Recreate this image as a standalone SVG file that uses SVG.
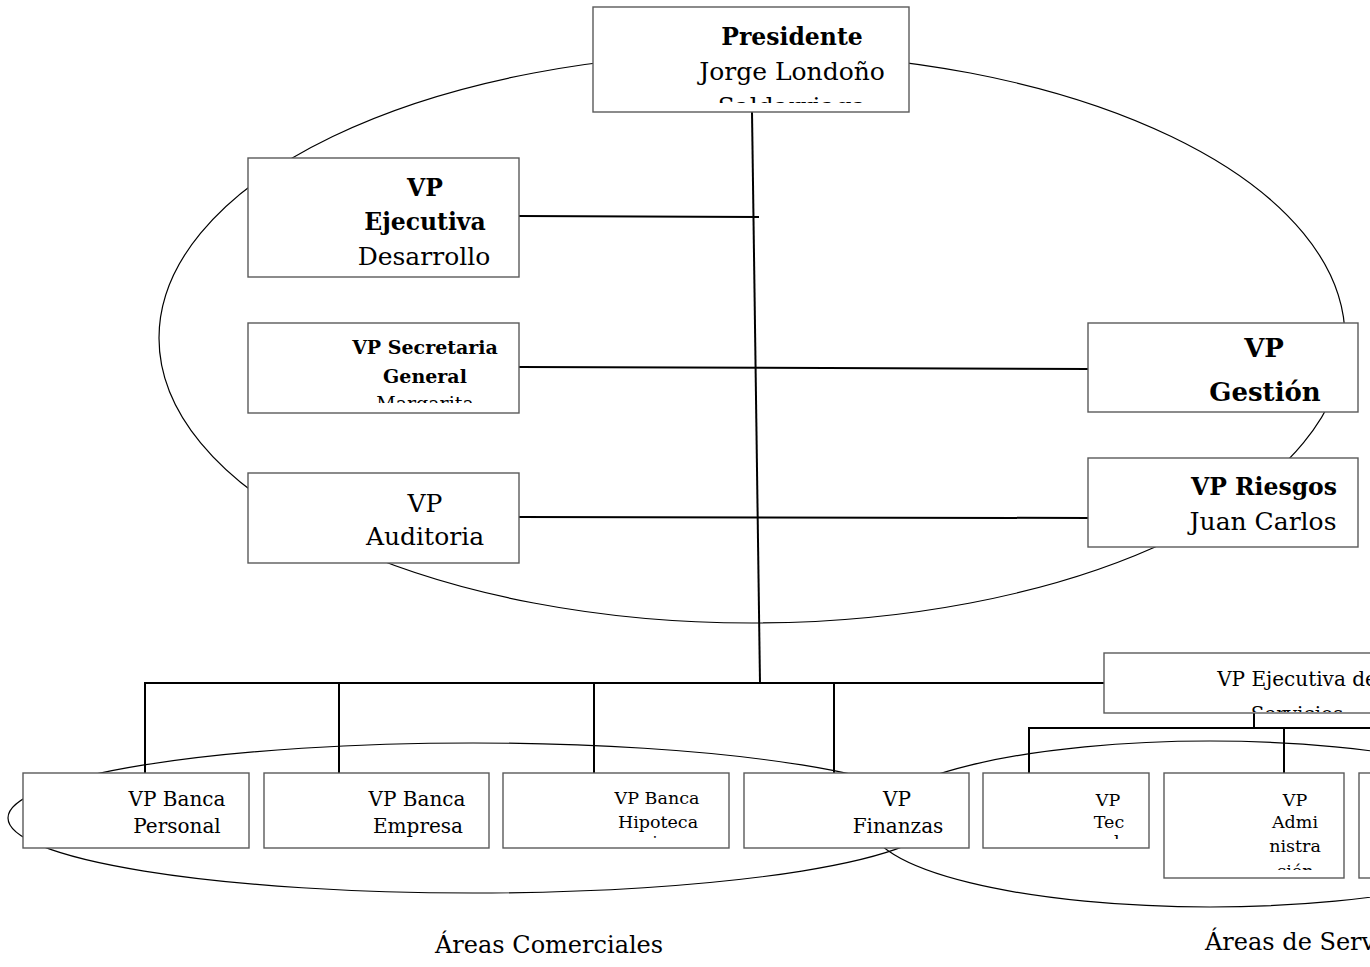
<svg xmlns="http://www.w3.org/2000/svg" width="1370" height="967" viewBox="0 0 1370 967">
  <style>
    .box { fill: #ffffff; stroke: #5a5a5a; stroke-width: 1.4; }
    .ring { fill: none; stroke: #000000; stroke-width: 1.2; }
    .link { fill: none; stroke: #000000; stroke-width: 2; }
    text { font-family: "DejaVu Serif", "Liberation Serif", serif; fill: #000000; text-anchor: middle; }
    .t25 { font-size: 25px; }
    .t23b { font-size: 23.5px; font-weight: bold; }
    .t26b { font-size: 26px; font-weight: bold; }
    .t19 { font-size: 19px; }
    .t19b { font-size: 19px; font-weight: bold; }
    .t20 { font-size: 20px; }
    .t17 { font-size: 17.5px; }
    .cap { font-size: 24px; text-anchor: start; }
  </style>
  <defs>
    <clipPath id="clip-pres"><rect x="593" y="7" width="316" height="96"/></clipPath>
    <clipPath id="clip-sec"><rect x="248" y="323" width="271" height="80"/></clipPath>
    <clipPath id="clip-hip"><rect x="503" y="773" width="226" height="66"/></clipPath>
    <clipPath id="clip-tec"><rect x="983" y="773" width="166" height="66"/></clipPath>
    <clipPath id="clip-adm"><rect x="1164" y="773" width="180" height="97"/></clipPath>
    <clipPath id="clip-serv"><rect x="1104" y="653" width="300" height="59"/></clipPath>
  </defs>

  <rect x="0" y="0" width="1370" height="967" fill="#ffffff"/>

  <!-- grouping rings -->
  <g id="rings">
    <ellipse class="ring" cx="752" cy="338" rx="593" ry="285"/>
    <ellipse class="ring" cx="1210" cy="824" rx="340" ry="83"/>
    <ellipse class="ring" cx="473" cy="818" rx="465" ry="75"/>
  </g>

  <!-- reporting lines -->
  <g id="connectors">
    <line class="link" x1="752" y1="112" x2="760" y2="683"/>
    <line class="link" x1="519" y1="216" x2="759" y2="217"/>
    <line class="link" x1="519" y1="367" x2="1088" y2="369"/>
    <line class="link" x1="519" y1="517" x2="1088" y2="518"/>
    <line class="link" x1="145" y1="683" x2="1104" y2="683"/>
    <line class="link" x1="145" y1="682" x2="145" y2="773"/>
    <line class="link" x1="339" y1="683" x2="339" y2="773"/>
    <line class="link" x1="594" y1="683" x2="594" y2="773"/>
    <line class="link" x1="834" y1="683" x2="834" y2="773"/>
    <line class="link" x1="1254" y1="713" x2="1254" y2="728"/>
    <line class="link" x1="1029" y1="728" x2="1370" y2="728"/>
    <line class="link" x1="1029" y1="727" x2="1029" y2="773"/>
    <line class="link" x1="1284" y1="728" x2="1284" y2="773"/>
  </g>

  <g id="presidente">
    <rect class="box" x="593" y="7" width="316" height="105"/>
    <g clip-path="url(#clip-pres)">
      <text class="t23b" x="792" y="45">Presidente</text>
      <text class="t25" x="792" y="80">Jorge Londoño</text>
      <text class="t25" x="792" y="115">Saldarriaga</text>
    </g>
  </g>

  <g id="vp-ejecutiva-desarrollo">
    <rect class="box" x="248" y="158" width="271" height="119"/>
    <text class="t23b" x="425" y="196">VP</text>
    <text class="t23b" x="425" y="230">Ejecutiva</text>
    <text class="t25" x="424" y="265">Desarrollo</text>
  </g>

  <g id="vp-secretaria-general">
    <rect class="box" x="248" y="323" width="271" height="90"/>
    <g clip-path="url(#clip-sec)">
      <text class="t19b" x="425" y="354">VP Secretaria</text>
      <text class="t19b" x="425" y="383">General</text>
      <text class="t19" x="425" y="410">Margarita</text>
    </g>
  </g>

  <g id="vp-auditoria">
    <rect class="box" x="248" y="473" width="271" height="90"/>
    <text class="t25" x="425" y="512">VP</text>
    <text class="t25" x="425" y="545">Auditoria</text>
  </g>

  <g id="vp-gestion">
    <rect class="box" x="1088" y="323" width="270" height="89"/>
    <text class="t26b" x="1264" y="357">VP</text>
    <text class="t26b" x="1265" y="401">Gestión</text>
  </g>

  <g id="vp-riesgos">
    <rect class="box" x="1088" y="458" width="270" height="89"/>
    <text class="t23b" x="1264" y="495">VP Riesgos</text>
    <text class="t25" x="1263" y="530">Juan Carlos</text>
  </g>

  <g id="vp-ejecutiva-servicios">
    <rect class="box" x="1104" y="653" width="300" height="60"/>
    <g clip-path="url(#clip-serv)">
      <text class="t20" x="1297" y="686">VP Ejecutiva de</text>
      <text class="t20" x="1297" y="721">Servicios</text>
    </g>
  </g>

  <g id="vp-banca-personal">
    <rect class="box" x="23" y="773" width="226" height="75"/>
    <text class="t20" x="177" y="806">VP Banca</text>
    <text class="t20" x="177" y="833">Personal</text>
  </g>

  <g id="vp-banca-empresa">
    <rect class="box" x="264" y="773" width="225" height="75"/>
    <text class="t20" x="417" y="806">VP Banca</text>
    <text class="t20" x="418" y="833">Empresa</text>
  </g>

  <g id="vp-banca-hipoteca">
    <rect class="box" x="503" y="773" width="226" height="75"/>
    <g clip-path="url(#clip-hip)">
      <text class="t17" x="657" y="804">VP Banca</text>
      <text class="t17" x="658" y="828">Hipoteca</text>
      <text class="t17" x="656" y="848">ria</text>
    </g>
  </g>

  <g id="vp-finanzas">
    <rect class="box" x="744" y="773" width="225" height="75"/>
    <text class="t20" x="897" y="806">VP</text>
    <text class="t20" x="898" y="833">Finanzas</text>
  </g>

  <g id="vp-tecnologia">
    <rect class="box" x="983" y="773" width="166" height="75"/>
    <g clip-path="url(#clip-tec)">
      <text class="t17" x="1108" y="806">VP</text>
      <text class="t17" x="1109" y="828">Tec</text>
      <text class="t17" x="1106" y="848">nol</text>
    </g>
  </g>

  <g id="vp-administracion">
    <rect class="box" x="1164" y="773" width="180" height="105"/>
    <g clip-path="url(#clip-adm)">
      <text class="t17" x="1295" y="806">VP</text>
      <text class="t17" x="1295" y="828">Admi</text>
      <text class="t17" x="1295" y="852">nistra</text>
      <text class="t17" x="1295" y="877">ción</text>
    </g>
  </g>

  <g id="vp-servicios-extra">
    <rect class="box" x="1359" y="773" width="40" height="105"/>
  </g>

  <g id="group-labels">
    <text class="cap" x="435" y="953">Áreas Comerciales</text>
    <text class="cap" x="1205" y="950">Áreas de Servicios</text>
  </g>
</svg>
